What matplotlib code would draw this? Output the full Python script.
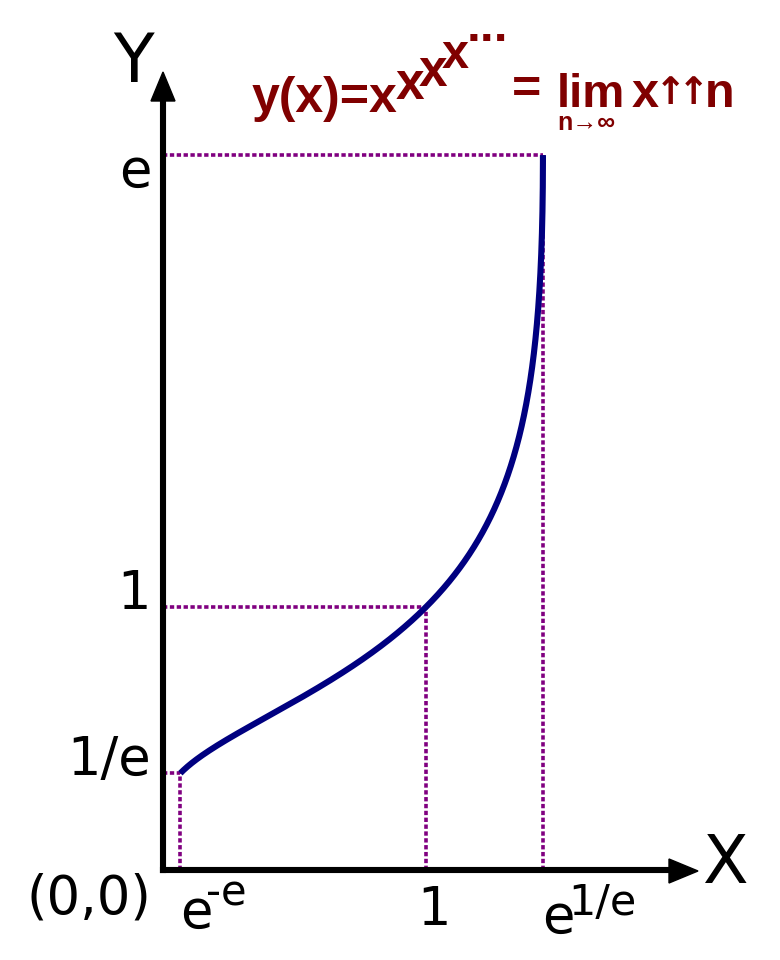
import matplotlib
matplotlib.use("Agg")
import matplotlib.pyplot as plt
import numpy as np
from matplotlib.patches import Polygon

W, H = 780, 960

# key points of the infinite power tower y = x^x^x^...
E = np.e
guide_x = [E ** -E, 1.0, E ** (1 / E)]
guide_y = [1 / E, 1.0, E]
y_tick_labels = ["1/e", "1", "e"]
y_label_base = [775, 609, 187]   # baselines (px) of the y labels

# the curve, traced through its inverse x = y^(1/y) for y in [1/e, e]
curve_y = np.linspace(1 / E, E, 1200)
curve_x = curve_y ** (1 / curve_y)

# pixel layout: origin and scale (px per unit)
OX, OY, S = 163, 870, 263

fig = plt.figure(figsize=(W / 100, H / 100), dpi=100)
ax = fig.add_axes([0, 0, 1, 1])
ax.set_xlim(-OX / S, (W - OX) / S)
ax.set_ylim((OY - H) / S, OY / S)
ax.axis("off")


def fx(xp):
    return xp / W


def fy(yp):
    return 1 - yp / H


def txt(xp, yp, s, **kw):
    fig.text(fx(xp), fy(yp), s, **kw)


purple = "#800080"
navy = "#000080"
dred = "#800000"
dots = dict(color=purple, lw=2.6, linestyle=(0, (1.2, 0.7)), zorder=1)

# dotted guides
for gx, gy in zip(guide_x, guide_y):
    ax.plot([0, gx], [gy, gy], **dots)
    ax.plot([gx, gx], [0, gy], **dots)

# curve
ax.plot(curve_x, curve_y, color=navy, lw=4.4, solid_capstyle="butt", zorder=3)

# axes with arrowheads
ax.plot([0, 0], [0, (OY - 100) / S], color="k", lw=4.4, solid_capstyle="projecting", zorder=4)
ax.plot([0, (670 - OX) / S], [0, 0], color="k", lw=4.4, solid_capstyle="projecting", zorder=4)
for pts in ([(163, 72), (151, 101), (175, 101)], [(698, 871), (669, 859), (669, 883)]):
    fig.patches.append(Polygon([(fx(a), fy(b)) for a, b in pts], closed=True,
                               color="k", transform=fig.transFigure, zorder=5))

# axis names
txt(113, 82, "Y", fontsize=48, va="baseline", ha="left")
txt(702, 883, "X", fontsize=48, va="baseline", ha="left")

# y tick labels
lab = dict(fontsize=38, va="baseline")
for yb, s in zip(y_label_base, y_tick_labels):
    txt(151, yb, s, ha="right", **lab)
txt(151, 913, "(0,0)", ha="right", **lab)

# x tick labels
txt(180, 928, "e", ha="left", **lab)
txt(206, 905, "-e", ha="left", fontsize=30, va="baseline")
txt(OX + guide_x[1] * S + 8, 925, "1", ha="center", **lab)
txt(542, 933, "e", ha="left", **lab)
txt(568, 915, "1/e", ha="left", fontsize=31, va="baseline")

# title formula
tfont = dict(color=dred, fontweight="bold", va="baseline", ha="left",
             family=["Liberation Sans", "DejaVu Sans"])
txt(252, 112, "y(x)=x", fontsize=36, **tfont)
txt(396, 99, "x", fontsize=37, **tfont)
txt(419, 86, "x", fontsize=37, **tfont)
txt(442, 68, "x", fontsize=35, **tfont)
txt(467, 41, "...", fontsize=36, **tfont)
txt(512, 104, "=", fontsize=36, **tfont)
txt(557, 107, "lim", fontsize=34, **tfont)
txt(557, 130, "n\u2192\u221e", fontsize=18, **tfont)
txt(632, 107, "x", fontsize=35, **tfont)
arrow_font = dict(fontsize=27, color=dred, fontweight="bold", va="baseline",
                  ha="center", family="DejaVu Sans")
txt(670, 104, "\u2191", **arrow_font)
txt(693, 104, "\u2191", **arrow_font)
txt(705, 107, "n", fontsize=35, **tfont)

fig.savefig("out.png", dpi=100)
